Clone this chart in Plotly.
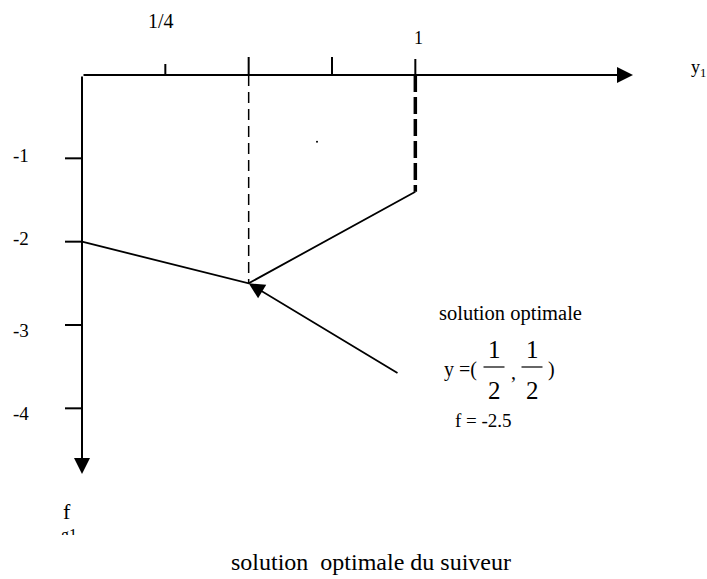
import plotly.graph_objects as go

# ---- data -------------------------------------------------------------
y1_ticks = [0.25, 0.5, 0.75, 1.0]          # graduations on the y1 axis
y1_tick_labels = {0.25: "1/4", 1.0: "1"}   # labelled graduations
f_ticks = [-1, -2, -3, -4]                  # graduations on the f axis
f_tick_labels = ["-1", "-2", "-3", "-4"]

frontier_y1 = [0.0, 0.5, 1.0]               # follower's reaction polyline
frontier_f = [-2.0, -2.5, -1.4]

opt_y1 = 0.5                                # optimal follower solution
opt_f = -2.5

y1_max = 1.0                                # feasible bound on y1
dot_y1, dot_f = 0.705, -0.80                # stray point in the region

# ---- layout geometry (pixels <-> data) --------------------------------
W, H = 707, 579
PLOT_H = 535                 # plotting area height (bottom strip holds caption)
X0_PX, Y0_PX = 82, 75        # pixel position of the origin
PX_PER_Y1 = 1000 / 3         # pixels per unit of y1
PX_PER_F = 250 / 3           # pixels per unit of f

def dx(px):
    return (px - X0_PX) / PX_PER_Y1

def dy(py):
    return (Y0_PX - py) / PX_PER_F

x_range = [dx(0), dx(W)]
y_range = [dy(PLOT_H), dy(0)]

FONT = "Liberation Serif"
BLACK = "#000000"

fig = go.Figure()

# y1 axis graduations (drawn upward from the axis)
tick_up_px = [11, 18, 18, 16]
tx, ty = [], []
for v, h in zip(y1_ticks, tick_up_px):
    tx += [v, v, None]
    ty += [0, h / PX_PER_F, None]
fig.add_trace(go.Scatter(x=tx, y=ty, mode="lines",
                         line=dict(color=BLACK, width=2), hoverinfo="skip"))

# f axis graduations (drawn leftward from the axis)
gx, gy = [], []
for v in f_ticks:
    gx += [-17 / PX_PER_Y1, 0, None]
    gy += [v, v, None]
fig.add_trace(go.Scatter(x=gx, y=gy, mode="lines",
                         line=dict(color=BLACK, width=2), hoverinfo="skip"))

# dashed guide down to the optimum
fig.add_trace(go.Scatter(x=[opt_y1, opt_y1], y=[0, opt_f], mode="lines",
                         line=dict(color=BLACK, width=1.5, dash="11px,6px"),
                         hoverinfo="skip"))

# thick dashed bound y1 = 1
fig.add_trace(go.Scatter(x=[y1_max, y1_max], y=[0, frontier_f[-1]], mode="lines",
                         line=dict(color=BLACK, width=3.5, dash="17px,5px"),
                         hoverinfo="skip"))

# reaction polyline
fig.add_trace(go.Scatter(x=frontier_y1, y=frontier_f, mode="lines",
                         line=dict(color=BLACK, width=1.8), hoverinfo="skip"))

# stray dot
fig.add_trace(go.Scatter(x=[dot_y1], y=[dot_f], mode="markers",
                         marker=dict(color=BLACK, size=2), hoverinfo="skip"))

# partially hidden axis subscript, clipped by the plotting area
fig.add_trace(go.Scatter(x=[dx(69)], y=[dy(536)], mode="text", text=["g1"],
                         textfont=dict(family=FONT, size=16, color=BLACK),
                         textposition="middle center", cliponaxis=True,
                         hoverinfo="skip"))

ann = []

# axes with arrowheads
ann.append(dict(x=dx(633), y=0, ax=0, ay=0, xref="x", yref="y", axref="x", ayref="y",
                text="", showarrow=True, arrowhead=2, arrowsize=1.6, arrowwidth=2,
                arrowcolor=BLACK))
ann.append(dict(x=0, y=dy(474), ax=0, ay=0, xref="x", yref="y", axref="x", ayref="y",
                text="", showarrow=True, arrowhead=2, arrowsize=1.6, arrowwidth=2,
                arrowcolor=BLACK))

# pointer to the optimum
ann.append(dict(x=opt_y1, y=opt_f, ax=dx(399), ay=dy(374), xref="x", yref="y",
                axref="x", ayref="y", text="", showarrow=True, arrowhead=2,
                arrowsize=1.75, arrowwidth=1.8, arrowcolor=BLACK))

def label(text, xpx, ypx, size, xanchor="center"):
    ann.append(dict(x=dx(xpx), y=dy(ypx), xref="x", yref="y", text=text,
                    showarrow=False, xanchor=xanchor, yanchor="middle",
                    font=dict(family=FONT, size=size, color=BLACK)))

# y1 axis labels
label(y1_tick_labels[0.25], X0_PX + 0.25 * PX_PER_Y1 - 4, 21, 20)
label(y1_tick_labels[1.0], X0_PX + 1.0 * PX_PER_Y1 + 3, 38, 18)
label("y<sub>1</sub>", 689, 68, 18, xanchor="left")

# f axis labels
f_label_shift = [-3, -3, 5, 5]
for v, t, s in zip(f_ticks, f_tick_labels, f_label_shift):
    label(t, 21, Y0_PX - v * PX_PER_F + s, 19)
label("f", 67, 511, 22)

# optimum annotation
label("solution optimale", 510, 313, 20.5)
label("y =(", 442, 369, 20, xanchor="left")
for cx in (494, 532):
    label("1", cx, 349, 25)
    label("2", cx, 390, 25)
label(",", 513, 372, 20)
label(")", 551, 369, 20)
label(f"f =\u00a0{opt_f}", 483, 420, 19)

# caption (below the plotting area, placed in paper coordinates)
ann.append(dict(x=371 / W, y=(PLOT_H - 562) / PLOT_H, xref="paper", yref="paper",
                text="solution\u00a0 optimale du suiveur", showarrow=False,
                xanchor="center", yanchor="middle",
                font=dict(family=FONT, size=24, color=BLACK)))

shapes = []
for cx in (494, 532):
    shapes.append(dict(type="line", xref="x", yref="y",
                       x0=dx(cx - 10.5), x1=dx(cx + 10.5), y0=dy(367), y1=dy(367),
                       line=dict(color=BLACK, width=1.2)))

fig.update_layout(
    width=W, height=H,
    margin=dict(l=0, r=0, t=0, b=H - PLOT_H, pad=0),
    paper_bgcolor="white", plot_bgcolor="white",
    showlegend=False,
    xaxis=dict(range=x_range, visible=False, fixedrange=True),
    yaxis=dict(range=y_range, visible=False, fixedrange=True),
    annotations=ann, shapes=shapes,
)

fig.write_html("out.html")
